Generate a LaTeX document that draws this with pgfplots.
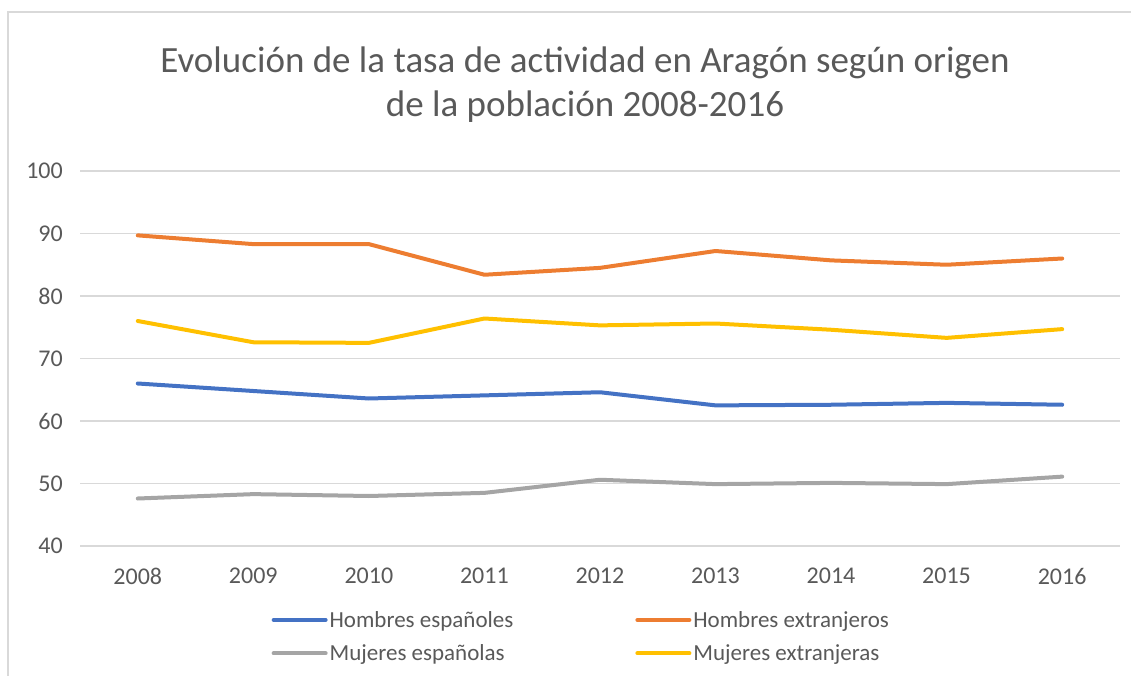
\documentclass[border=0pt]{standalone}
\usepackage{fontspec}
\setmainfont{Carlito}
\usepackage{pgfplots}
\pgfplotsset{compat=1.18}
\definecolor{cblue}{HTML}{4472C4}
\definecolor{corange}{HTML}{ED7D31}
\definecolor{cgray}{HTML}{A5A5A5}
\definecolor{cyellow}{HTML}{FFC000}
\definecolor{txt}{HTML}{595959}
\definecolor{gridc}{HTML}{D9D9D9}
\begin{document}
\begin{tikzpicture}[x=1pt,y=1pt]
\useasboundingbox (0,0) rectangle (1131,675);
\draw[gridc, line width=2pt] (7.5,-5) -- (7.5,663) -- (1140,663);
\node[align=center, text=txt, font=\fontsize{37}{44}\selectfont] at (585,590)
  {Evolución de la tasa de actividad en Aragón según origen\\de la población 2008-2016};
\begin{axis}[
  at={(80pt,129pt)}, anchor=south west,
  scale only axis, width=1040pt, height=375pt,
  xmin=2007.5, xmax=2016.5, ymin=40, ymax=100,
  xtick={2008,...,2016}, ytick={40,50,...,100},
  xticklabels={2008,2009,2010,2011,2012,2013,2014,2015,2016},
  /pgf/number format/assume math mode=true,
  axis line style={draw=none},
  major tick length=0pt,
  ymajorgrids, grid style={gridc, line width=1.2pt},
  tick label style={text=txt, font=\fontsize{24}{26}\selectfont},
  yticklabel style={inner sep=0pt}, yticklabel shift=17pt,
  xticklabel style={inner sep=0pt}, xticklabel shift=22pt,
  legend columns=2, legend cell align=left,
  legend style={draw=none, fill=none, at={(axis description cs:0.482,0)}, yshift=-63pt, anchor=north,
    font=\fontsize{23}{26}\selectfont, text=txt,
    /tikz/every even column/.append style={column sep=120pt},
    row sep=12pt, inner sep=0pt},
  legend image code/.code={\draw[#1, line width=4pt] (0pt,0pt) -- (52pt,0pt);},
  every axis plot/.append style={line width=4pt, line join=round, line cap=round},
]
\addplot[cblue] coordinates {(2008,66.0) (2009,64.8) (2010,63.6) (2011,64.1) (2012,64.6) (2013,62.5) (2014,62.6) (2015,62.9) (2016,62.6)};
\addlegendentry{Hombres españoles}
\addplot[corange] coordinates {(2008,89.7) (2009,88.3) (2010,88.3) (2011,83.4) (2012,84.5) (2013,87.2) (2014,85.7) (2015,85.0) (2016,86.0)};
\addlegendentry{Hombres extranjeros}
\addplot[cgray] coordinates {(2008,47.6) (2009,48.3) (2010,48.0) (2011,48.5) (2012,50.6) (2013,49.9) (2014,50.1) (2015,49.9) (2016,51.1)};
\addlegendentry{Mujeres españolas}
\addplot[cyellow] coordinates {(2008,76.0) (2009,72.6) (2010,72.5) (2011,76.4) (2012,75.3) (2013,75.6) (2014,74.6) (2015,73.3) (2016,74.7)};
\addlegendentry{Mujeres extranjeras}
\end{axis}
\end{tikzpicture}
\end{document}
